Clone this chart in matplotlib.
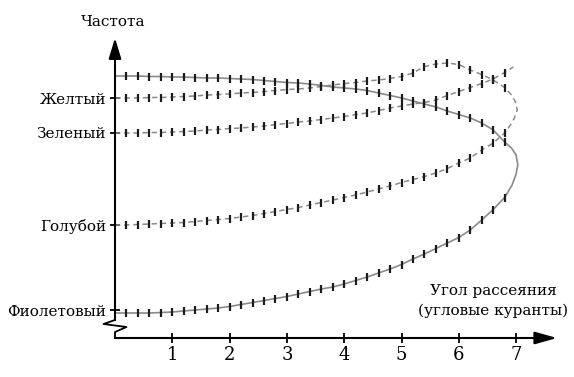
import numpy as np
import matplotlib.pyplot as plt

# углы, на которых стоят засечки на кривых
ANGLE = [0.2, 0.4, 0.6, 0.8, 1.0, 1.2, 1.4, 1.6, 1.8, 2.0, 2.2, 2.4,
         2.6, 2.8, 3.0, 3.2, 3.4, 3.6, 3.8, 4.0, 4.2, 4.4, 4.6, 4.8,
         5.0, 5.2, 5.4, 5.6, 5.8, 6.0, 6.2, 6.4, 6.6, 6.8]

# фиолетовый: нижняя и верхняя ветви (сплошная линия)
VIOLET_LOW = [2.5, 2.5, 2.5, 2.55, 2.6, 2.7, 2.8, 2.9, 3.0, 3.15, 3.35, 3.55,
              3.75, 3.95, 4.15, 4.4, 4.65, 4.9, 5.1, 5.4, 5.75, 6.1, 6.5, 6.9,
              7.35, 7.9, 8.4, 8.95, 9.5, 10.05, 10.8, 11.8, 12.85, 14.05]
VIOLET_HIGH = [26.2, 26.2, 26.15, 26.15, 26.1, 26.1, 26.05, 26.0, 26.0, 25.95, 25.9, 25.85,
               25.75, 25.65, 25.55, 25.5, 25.4, 25.25, 25.1, 25.0, 24.9, 24.75, 24.5, 24.25,
               24.0, 23.7, 23.4, 23.1, 22.7, 22.35, 22.0, 21.5, 20.8, 19.6]
VIOLET_START = [2.5, 26.2]
VIOLET_FOLD_X = [6.93, 7.0, 7.03, 7.0, 6.92]
VIOLET_FOLD_Y = [15.3, 16.4, 17.3, 18.3, 19.0]

# голубой (нижняя ветвь) и желтый (верхняя ветвь) - одна пунктирная кривая
BLUE_LOW = [11.3, 11.35, 11.4, 11.45, 11.5, 11.55, 11.65, 11.75, 11.85, 11.95, 12.1, 12.25,
            12.45, 12.65, 12.85, 13.05, 13.3, 13.55, 13.8, 14.05, 14.3, 14.6, 14.9, 15.2,
            15.55, 15.85, 16.15, 16.5, 16.95, 17.5, 18.0, 18.8, 19.5, 20.5]
YELLOW_HIGH = [24.0, 24.0, 24.05, 24.05, 24.1, 24.15, 24.2, 24.3, 24.35, 24.4, 24.5, 24.55,
               24.65, 24.75, 24.85, 24.9, 25.0, 25.15, 25.3, 25.45, 25.55, 25.7, 25.8, 25.95,
               26.15, 26.5, 27.15, 27.4, 27.5, 27.35, 26.8, 26.35, 25.8, 25.05]
BLUE_START = [11.3, 24.0]
BLUE_FOLD_X = [6.9, 6.97, 7.02, 6.99, 6.92]
BLUE_FOLD_Y = [21.3, 22.0, 22.8, 23.6, 24.3]

# зеленый - без поворота
GREEN = [20.5, 20.5, 20.55, 20.55, 20.6, 20.65, 20.7, 20.8, 20.85, 20.95, 21.0, 21.1,
         21.2, 21.35, 21.45, 21.6, 21.7, 21.85, 22.0, 22.15, 22.35, 22.5, 22.75, 23.0,
         23.2, 23.4, 23.55, 23.8, 24.25, 24.65, 25.05, 25.45, 25.9, 26.55]
GREEN_START = 20.5
GREEN_END = [6.95, 27.1]

LEVEL_NAMES = ['Фиолетовый', 'Голубой', 'Зеленый', 'Желтый']
LEVEL_VALUES = [2.8, 11.3, 20.5, 24.0]
X_TICKS = [1, 2, 3, 4, 5, 6, 7]

plt.rcParams['font.family'] = ['DejaVu Serif']

fig = plt.figure(figsize=(5.74, 3.77), dpi=100)
ax = fig.add_axes([115 / 574, 39 / 377, 442 / 574, 300 / 377])
ax.set_xlim(0, 442 / 57.3)
ax.set_ylim(0, 30)
for s in ax.spines.values():
    s.set_visible(False)


def folded(start, low, fold_x, fold_y, high):
    xs = [0] + ANGLE + fold_x + ANGLE[::-1] + [0]
    ys = [start[0]] + low + fold_y + high[::-1] + [start[1]]
    return xs, ys


line_gray = '#8a8a8a'
tick_black = '#1c1c1c'

xs, ys = folded(VIOLET_START, VIOLET_LOW, VIOLET_FOLD_X, VIOLET_FOLD_Y, VIOLET_HIGH)
ax.plot(xs, ys, color=line_gray, lw=1.2)

xs, ys = folded(BLUE_START, BLUE_LOW, BLUE_FOLD_X, BLUE_FOLD_Y, YELLOW_HIGH)
ax.plot(xs, ys, color=line_gray, lw=1.1, ls=(0, (3.5, 2.5)))

ax.plot([0] + ANGLE + [GREEN_END[0]], [GREEN_START] + GREEN + [GREEN_END[1]],
        color=line_gray, lw=1.1, ls=(0, (3.5, 2.5)))

for vals in [VIOLET_LOW, VIOLET_HIGH, BLUE_LOW, YELLOW_HIGH, GREEN]:
    ax.plot(ANGLE, vals, ls='none', marker='|', ms=6, mew=1.6, color=tick_black)

# оси со стрелками
ax.annotate('', xy=(1, 0), xytext=(0, 0), xycoords='axes fraction',
            arrowprops=dict(arrowstyle='-|>,head_length=1.35,head_width=0.38',
                            mutation_scale=10, lw=1.5, color='black',
                            shrinkA=0, shrinkB=0))
ax.annotate('', xy=(0, 1), xytext=(0, 0.06), xycoords='axes fraction',
            arrowprops=dict(arrowstyle='-|>,head_length=1.25,head_width=0.38',
                            mutation_scale=10, lw=1.5, color='black',
                            shrinkA=0, shrinkB=0))
# разрыв оси
ax.plot([0, -0.2, 0.2, 0, 0], [1.8, 1.4, 1.1, 0.6, 0], color='black', lw=1.3,
        clip_on=False)

ax.set_xticks(X_TICKS)
ax.set_xticklabels([str(t) for t in X_TICKS], fontsize=13)
ax.set_yticks(LEVEL_VALUES)
ax.set_yticklabels(LEVEL_NAMES, fontsize=11)
ax.tick_params(axis='x', direction='inout', length=7, width=1.3, pad=2)
ax.tick_params(axis='y', direction='inout', length=7, width=1.3, pad=3)

ax.text(-0.04, 31.6, 'Частота', ha='center', va='center', fontsize=11, clip_on=False)
ax.text(6.6, 3.7, 'Угол рассеяния\n(угловые куранты)', ha='center', va='center',
        fontsize=11, linespacing=1.5)

fig.savefig('out.png', dpi=100)
